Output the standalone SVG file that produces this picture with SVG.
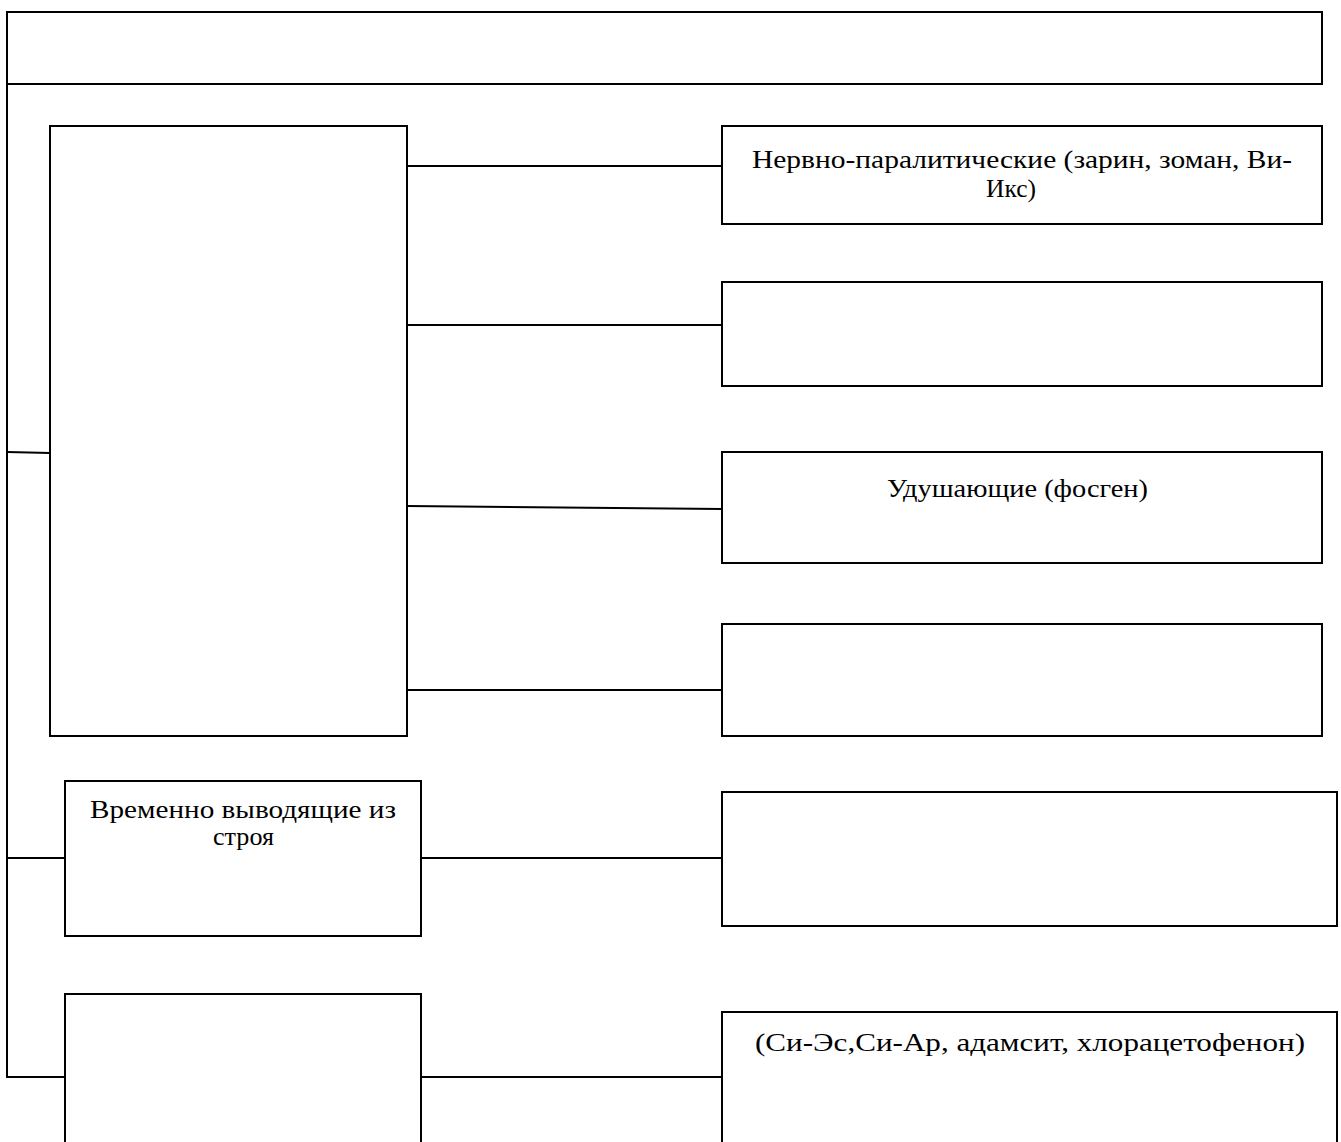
<svg xmlns="http://www.w3.org/2000/svg" width="1341" height="1142" viewBox="0 0 1341 1142">
<style>
.b{fill:#fff;stroke:#000;stroke-width:2}
.c{fill:none;stroke:#000;stroke-width:2}
.t{font-family:"Liberation Serif","Times New Roman",serif;font-size:26px;fill:#000}
</style>
<rect width="1341" height="1142" fill="#fff"/>
<g id="connectors">
<polyline class="c" points="7,84 7,1077 65,1077"/>
<line class="c" x1="7" y1="452" x2="50" y2="453"/>
<line class="c" x1="7" y1="858" x2="65" y2="858"/>
<line class="c" x1="407" y1="166" x2="722" y2="166"/>
<line class="c" x1="407" y1="325" x2="722" y2="325"/>
<line class="c" x1="407" y1="506" x2="722" y2="509"/>
<line class="c" x1="407" y1="690" x2="722" y2="690"/>
<line class="c" x1="421" y1="858" x2="722" y2="858"/>
<line class="c" x1="421" y1="1077" x2="722" y2="1077"/>
</g>
<g id="top"><rect class="b" x="7" y="12" width="1315" height="72"/></g>
<g id="big"><rect class="b" x="50" y="126" width="357" height="610"/></g>
<g id="n1"><rect class="b" x="722" y="126" width="600" height="98"/>
<text class="t" x="752" y="168" textLength="540" lengthAdjust="spacingAndGlyphs">Нервно-паралитические (зарин, зоман, Ви-</text>
<text class="t" x="986" y="197" textLength="50" lengthAdjust="spacingAndGlyphs">Икс)</text></g>
<g id="n2"><rect class="b" x="722" y="282" width="600" height="104"/></g>
<g id="n3"><rect class="b" x="722" y="452" width="600" height="111"/>
<text class="t" x="887" y="497" textLength="261" lengthAdjust="spacingAndGlyphs">Удушающие (фосген)</text></g>
<g id="n4"><rect class="b" x="722" y="624" width="600" height="112"/></g>
<g id="n5"><rect class="b" x="722" y="792" width="615" height="134"/></g>
<g id="tmp"><rect class="b" x="65" y="781" width="356" height="155"/>
<text class="t" x="90" y="818" textLength="306" lengthAdjust="spacingAndGlyphs">Временно выводящие из</text>
<text class="t" x="213" y="845" textLength="61" lengthAdjust="spacingAndGlyphs">строя</text></g>
<g id="bl"><rect class="b" x="65" y="994" width="356" height="160"/></g>
<g id="br"><rect class="b" x="722" y="1012" width="615" height="142"/>
<text class="t" x="755" y="1051" textLength="550" lengthAdjust="spacingAndGlyphs">(Си-Эс,Си-Ар, адамсит, хлорацетофенон)</text></g>
</svg>
